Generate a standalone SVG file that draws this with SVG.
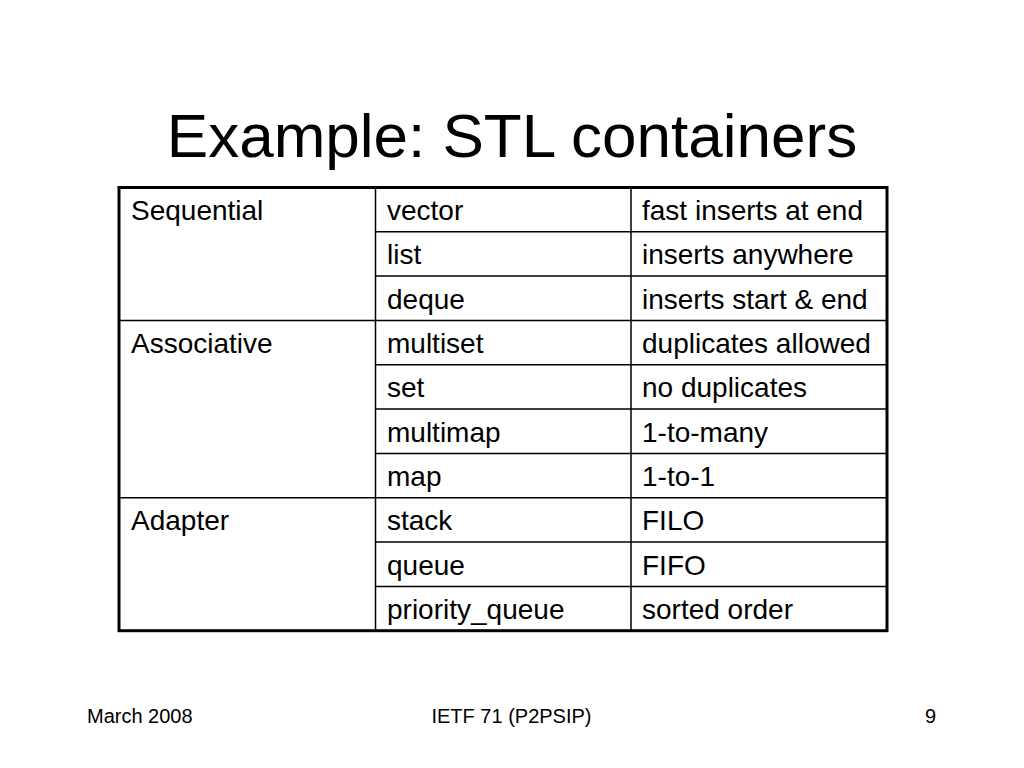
<svg xmlns="http://www.w3.org/2000/svg" width="1024" height="768" viewBox="0 0 1024 768">
<style>
.t{font-family:"Liberation Sans",Arial,sans-serif;fill:#000}
.c{font-size:28px}
.f{font-size:20px}
.g{stroke:#000;stroke-width:1.5;fill:none}
</style>
<rect width="1024" height="768" fill="#fff"/>
<text class="t" x="512" y="157" font-size="62" text-anchor="middle">Example: STL containers</text>
<g id="table-lines">
<line class="g" x1="375.5" y1="187.5" x2="375.5" y2="630.7"/>
<line class="g" x1="631" y1="187.5" x2="631" y2="630.7"/>
<line class="g" x1="375.5" y1="231.8" x2="887" y2="231.8"/>
<line class="g" x1="375.5" y1="276.1" x2="887" y2="276.1"/>
<line class="g" x1="119" y1="320.5" x2="887" y2="320.5"/>
<line class="g" x1="375.5" y1="364.8" x2="887" y2="364.8"/>
<line class="g" x1="375.5" y1="409.1" x2="887" y2="409.1"/>
<line class="g" x1="375.5" y1="453.4" x2="887" y2="453.4"/>
<line class="g" x1="119" y1="497.7" x2="887" y2="497.7"/>
<line class="g" x1="375.5" y1="542.1" x2="887" y2="542.1"/>
<line class="g" x1="375.5" y1="586.4" x2="887" y2="586.4"/>
<rect x="119" y="187.5" width="768" height="443.2" fill="none" stroke="#000" stroke-width="3"/>
</g>
<g id="col1" class="t c">
<text x="131" y="220">Sequential</text>
<text x="131" y="353">Associative</text>
<text x="131" y="530.2">Adapter</text>
</g>
<g id="col2" class="t c">
<text x="387" y="220">vector</text>
<text x="387" y="264.3">list</text>
<text x="387" y="308.6">deque</text>
<text x="387" y="353">multiset</text>
<text x="387" y="397.3">set</text>
<text x="387" y="441.6">multimap</text>
<text x="387" y="485.9">map</text>
<text x="387" y="530.2">stack</text>
<text x="387" y="574.6">queue</text>
<text x="387" y="618.9">priority_queue</text>
</g>
<g id="col3" class="t c">
<text x="642" y="220">fast inserts at end</text>
<text x="642" y="264.3">inserts anywhere</text>
<text x="642" y="308.6">inserts start &amp; end</text>
<text x="642" y="353">duplicates allowed</text>
<text x="642" y="397.3">no duplicates</text>
<text x="642" y="441.6">1-to-many</text>
<text x="642" y="485.9">1-to-1</text>
<text x="642" y="530.2">FILO</text>
<text x="642" y="574.6">FIFO</text>
<text x="642" y="618.9">sorted order</text>
</g>
<g id="footer" class="t f">
<text x="87" y="723">March 2008</text>
<text x="511.5" y="723" text-anchor="middle">IETF 71 (P2PSIP)</text>
<text x="936" y="723" text-anchor="end">9</text>
</g>
</svg>
